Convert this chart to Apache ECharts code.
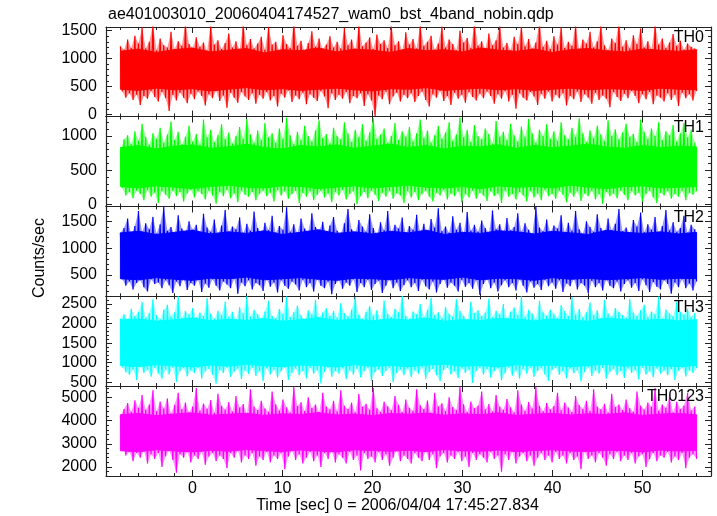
<!DOCTYPE html>
<html><head><meta charset="utf-8">
<script src="https://cdn.jsdelivr.net/npm/echarts@6/dist/echarts.min.js"></script>
<style>html,body{margin:0;padding:0;background:#fff}#c{width:717px;height:516px}</style>
</head><body><div id="c"></div>
<script>
const titleText = 'ae401003010_20060404174527_wam0_bst_4band_nobin.qdp';
const xTitle = 'Time [sec] 0 = 2006/04/04 17:45:27.834';
const yTitle = 'Counts/sec';
const panelNames = ['TH0', 'TH1', 'TH2', 'TH3', 'TH0123'];
const panelColors = ['#ff0000', '#00ff00', '#0000ff', '#00ffff', '#ff00ff'];
const timeStart = -8, timeEnd = 56;
const xMin = -9.6, xMax = 57.6;
const xMajorTicks = [0, 10, 20, 30, 40, 50];
const xMinorStep = 2;
const yRanges = [[-38, 1566], [-32, 1285], [100, 1785], [405, 2697], [1613, 5486]];
const yMajorTicks = [[0, 500, 1000, 1500], [0, 500, 1000], [500, 1000, 1500], [500, 1000, 1500, 2000, 2500], [2000, 3000, 4000, 5000]];
const yMinorStep = [100, 100, 100, 100, 200];

// Extremes of the light curves (alternating upper / lower excursions)
const th0 = [
1220,410,1160,300,1340,380,1190,260,1410,350,1270,170,1560,330,1180,280,1300,420,1620,310,
1150,230,1360,400,1240,290,1200,60,1480,350,1170,250,1310,390,1230,300,1640,200,1260,370,
1190,270,1380,410,1210,330,1290,160,1140,360,1600,290,1250,420,1330,240,1170,340,1280,120,
1450,390,1200,300,1310,210,1150,400,1630,320,1240,260,1350,380,1180,190,1270,350,1390,280,
1160,400,1570,250,1250,330,1300,140,1130,370,1420,300,1260,430,1190,220,1660,340,1230,270,
1320,390,1120,180,1280,360,1490,300,1210,240,1360,420,1170,320,1250,110,1400,380,1200,260,
1300,350,1180,280,1550,400,1240,200,1340,330,1150,290,1610,380,1220,150,1290,360,1380,250,
1170,-30,1430,340,1260,270,1330,410,1190,180,1590,320,1240,390,1310,230,1140,350,1470,290,
1250,380,1350,220,1180,330,1620,410,1230,260,1300,140,1410,360,1160,300,1270,420,1580,240,
1200,330,1340,170,1260,390,1150,280,1500,350,1290,210,1370,400,1190,310,1640,250,1230,370,
1310,290,1170,410,1450,330,1240,190,1330,360,1600,280,1200,420,1280,230,1150,350,1390,100,
1260,380,1570,300,1220,250,1350,400,1180,320,1290,170,1630,370,1210,280,1320,410,1170,230,
1400,350,1250,290,1560,380,1190,160,1300,330,1230,270,1610,410,1160,220,1340,360,1270,300,
1480,190,1200,390,1310,260,1590,340,1240,280,1150,130,1360,400,1280,310,1650,240,1210,370,
1330,290,1180,420,1420,330,1260,200,1540,360,1200,270,1310,400,1170,180,1620,340,1250,300,
1360,230,1190,380,1290,260,1440,350,1230,150,1320,390,1160,290,1270,360,1210,250,1180,420
];
const th1 = [
780,240,950,130,1010,180,880,90,1070,200,930,150,1180,60,990,210,870,110,1040,170,
960,20,1120,190,900,140,1020,80,1210,200,940,120,1060,180,880,40,990,160,1150,210,
920,100,1030,190,870,150,1240,70,980,200,1090,130,910,10,1010,180,1170,120,950,210,
1050,90,890,160,1000,30,1130,200,960,140,1250,110,1020,180,900,60,1080,150,940,200,
1190,120,980,170,1040,40,900,210,1110,130,960,190,1270,80,1010,150,880,200,1060,20,
940,170,1150,110,1000,190,920,60,1080,140,1230,200,970,100,1030,160,890,30,1120,180,
1000,130,950,210,1200,70,1040,150,910,190,1090,0,980,120,1170,180,930,90,1050,200,
1260,140,960,50,1020,170,1110,110,900,200,1000,80,1190,160,940,130,1070,20,990,190,
1130,100,920,180,1040,60,1240,150,970,200,1080,110,900,40,1010,170,1150,130,960,210,
1050,70,1200,160,930,120,1020,190,1270,30,980,150,1090,100,910,200,1160,80,1000,170,
950,130,1110,50,1030,190,890,120,1220,160,990,20,1060,200,940,110,1180,150,1010,70,
920,180,1140,130,980,40,1250,190,1040,100,900,160,1090,60,1000,210,1170,120,960,150,
1070,80,930,200,1200,140,1010,30,950,170,1120,110,990,190,1260,50,1040,160,910,120,
1080,200,970,70,1150,150,1020,10,930,180,1230,120,1000,160,1100,90,950,200,1050,140,
1180,60,990,190,1030,130,910,170,1240,40,1060,150,960,200,1110,100,1000,20,1200,170,
940,130,1070,190,1010,80,1160,150,920,110,1040,200,1190,60,980,170,1090,140,900,190
];
const th2 = [
1290,420,1380,300,1560,380,1250,230,1420,350,1700,400,1310,270,1470,190,1360,420,1590,330,
1280,360,1450,250,1780,400,1330,310,1400,160,1260,380,1620,290,1370,430,1300,220,1510,350,
1350,300,1440,410,1270,180,1650,340,1390,260,1310,420,1540,300,1260,210,1430,380,1720,320,
1300,250,1410,430,1360,150,1580,360,1280,290,1460,400,1330,230,1690,350,1380,310,1270,200,
1480,420,1340,280,1610,360,1290,170,1420,400,1350,300,1770,240,1310,380,1450,320,1280,210,
1560,410,1370,270,1300,350,1660,190,1400,420,1320,300,1500,250,1260,380,1430,140,1590,330,
1330,400,1270,240,1470,360,1740,300,1360,420,1290,180,1530,350,1410,270,1310,410,1640,220,
1380,330,1260,390,1490,160,1340,300,1700,420,1300,250,1440,360,1370,200,1580,310,1280,400,
1420,270,1350,350,1630,200,1300,410,1460,290,1270,230,1550,380,1390,170,1750,330,1320,420,
1410,260,1290,360,1600,300,1350,190,1480,410,1270,280,1680,350,1330,240,1440,400,1310,130,
1520,330,1380,420,1290,250,1710,360,1360,190,1450,310,1280,400,1570,270,1340,350,1400,210,
1660,420,1310,300,1470,170,1350,380,1260,260,1790,330,1390,220,1320,410,1540,290,1300,360,
1430,240,1370,400,1620,180,1290,340,1480,290,1330,420,1700,230,1360,350,1270,300,1510,160,
1400,390,1310,270,1640,350,1380,210,1290,410,1560,300,1340,250,1460,380,1740,190,1320,330,
1390,400,1280,260,1530,350,1410,200,1670,420,1300,310,1450,180,1350,370,1590,280,1270,230,
1420,400,1720,330,1340,150,1490,360,1310,270,1380,420,1610,250,1290,340,1440,210,1360,380
];
const th3 = [
2130,880,2240,760,2080,690,2380,820,2190,560,2300,900,2550,740,2150,820,2270,640,2620,870,
2210,720,2110,590,2350,830,2480,700,2180,880,2290,510,2700,780,2140,860,2320,650,2230,800,
2400,730,2160,870,2280,600,2190,780,2650,840,2250,690,2120,460,2330,810,2220,740,2560,880,
2170,640,2300,770,2090,850,2420,580,2260,800,2700,710,2180,870,2350,660,2240,790,2130,530,
2310,860,2580,700,2200,820,2140,620,2370,780,2250,880,2690,560,2170,740,2290,850,2460,680,
2210,790,2100,600,2340,870,2230,720,2610,810,2160,470,2280,760,2390,880,2190,640,2320,790,
2150,720,2520,860,2270,580,2180,800,2360,700,2680,850,2230,620,2120,780,2300,880,2450,540,
2200,760,2340,830,2110,660,2590,790,2250,870,2170,500,2380,740,2290,820,2710,680,2200,850,
2120,630,2310,800,2240,720,2500,880,2170,590,2350,760,2660,840,2210,680,2290,530,2140,810,
2430,870,2250,700,2180,780,2620,610,2320,850,2200,740,2100,820,2560,480,2270,790,2340,880,
2190,700,2280,840,2640,620,2160,780,2330,860,2240,550,2500,730,2130,880,2300,670,2410,800,
2220,590,2700,840,2170,720,2350,880,2260,640,2110,790,2580,860,2290,700,2200,530,2360,810,
2250,870,2140,690,2470,780,2320,600,2190,850,2680,730,2230,810,2370,520,2160,760,2290,880,
2540,660,2210,800,2340,720,2130,870,2600,590,2260,760,2180,840,2400,680,2300,790,2220,610,
2150,850,2630,740,2280,810,2200,570,2340,880,2480,700,2170,780,2310,630,2240,860,2690,720,
2120,800,2360,680,2260,840,2190,560,2550,790,2300,870,2230,650,2380,810,2160,740,2270,860
];
const th0123 = [
4200,2900,4500,2500,4750,2650,4380,2250,4870,2600,4550,2400,5100,2700,4460,2150,4690,2550,5300,2350,
4400,2600,4820,2000,4520,2450,4950,2700,4300,2300,4680,1750,5200,2550,4480,2400,4770,2650,4350,2200,
4600,2500,5400,2350,4420,2650,4730,2100,4510,2450,4880,2600,4330,2250,5150,2500,4640,2350,4470,1950,
4800,2600,4390,2400,5050,2700,4560,2200,4710,2500,4290,2350,5350,2600,4600,2050,4450,2450,4850,2300,
4520,2650,4380,2200,5250,2500,4700,2350,4430,2600,4900,1900,4570,2450,4340,2700,5450,2300,4620,2550,
4790,2150,4410,2400,5000,2650,4540,2250,4690,2500,4360,2000,5200,2600,4600,2350,4470,2700,4850,2200,
4400,2550,5300,2400,4630,2150,4500,2650,4780,2300,4350,2500,5150,1850,4590,2600,4720,2350,4460,2450,
5400,2200,4530,2650,4380,2300,4810,2550,4610,2050,4440,2400,5050,2700,4680,2250,4370,2500,4900,2350,
4550,2150,4420,2600,5350,2400,4660,2250,4490,2700,4860,2300,4330,2550,5200,1950,4600,2450,4740,2600,
4410,2200,5000,2500,4580,2350,4450,2650,5450,2250,4700,2450,4370,2000,4820,2600,4540,2300,4640,2550,
5250,2400,4480,2200,4710,2650,4390,2350,5100,2500,4600,1800,4460,2550,4930,2300,4570,2650,4350,2150,
5300,2450,4690,2600,4420,2250,4800,2500,4520,2050,5450,2400,4630,2600,4400,2300,4750,2500,4480,2200,
4620,2650,5200,2350,4440,2500,4780,2150,4560,2600,4370,2300,5050,2450,4670,1900,4500,2650,4850,2350,
4410,2500,5350,2200,4600,2600,4480,2400,4720,2050,4340,2550,5150,2350,4580,2650,4690,2250,4450,2500,
4900,2300,4530,2600,4380,2150,5250,2450,4640,2550,4470,2000,4770,2350,4590,2600,5400,2250,4420,2500,
4690,2400,4550,2650,5000,2200,4360,2450,4810,2300,4500,2600,4650,1950,5200,2400,4430,2550,4600,2350
];
// Densely filled core of each light curve (every 2 s, from -8 to 56 s)
const th0CoreLo = [450,430,470,440,460,420,450,480,440,460,430,450,470,440,420,460,450,480,430,450,470,440,460,430,450,470,440,460,450,430,470,450,440];
const th0CoreHi = [1130,1170,1110,1160,1190,1120,1150,1180,1100,1160,1140,1190,1120,1170,1150,1110,1180,1140,1160,1120,1190,1150,1130,1170,1110,1160,1180,1140,1120,1170,1150,1130,1160];
const th1CoreLo = [260,240,270,250,230,260,280,250,240,270,260,230,250,270,240,260,280,250,240,260,230,270,250,260,240,280,250,230,260,270,240,250,260];
const th1CoreHi = [830,860,810,850,870,820,840,880,830,810,860,840,870,820,850,880,830,860,810,850,840,870,820,860,830,850,880,840,820,860,830,850,840];
const th2CoreLo = [430,410,450,420,400,440,430,460,410,430,450,420,400,440,430,410,450,430,420,460,410,440,430,400,450,420,440,410,430,450,420,440,430];
const th2CoreHi = [1290,1320,1260,1300,1340,1270,1310,1280,1330,1260,1300,1350,1280,1310,1270,1320,1290,1340,1260,1300,1280,1330,1310,1270,1320,1290,1260,1340,1300,1280,1310,1270,1300];
const th3CoreLo = [930,900,950,920,890,940,910,960,920,900,940,930,890,950,910,930,900,940,960,910,930,890,950,920,940,900,930,960,910,940,920,900,930];
const th3CoreHi = [2090,2120,2060,2100,2140,2070,2110,2080,2130,2060,2100,2150,2080,2110,2070,2120,2090,2140,2060,2100,2080,2130,2110,2070,2120,2090,2060,2140,2100,2080,2110,2070,2100];
const th0123CoreLo = [2700,2660,2740,2690,2650,2720,2680,2750,2700,2670,2730,2690,2650,2740,2710,2680,2720,2660,2750,2700,2680,2730,2660,2710,2740,2690,2670,2720,2700,2650,2730,2690,2710];
const th0123CoreHi = [4250,4300,4210,4280,4330,4230,4270,4310,4220,4290,4260,4340,4240,4280,4210,4300,4270,4320,4230,4290,4250,4330,4220,4270,4310,4240,4290,4260,4330,4220,4280,4300,4250];

const seriesValues = [th0, th1, th2, th3, th0123];
const coreLo = [th0CoreLo, th1CoreLo, th2CoreLo, th3CoreLo, th0123CoreLo];
const coreHi = [th0CoreHi, th1CoreHi, th2CoreHi, th3CoreHi, th0123CoreHi];

const FONT = "'Liberation Sans', Arial, sans-serif";
const gridTops = [27, 116.5, 206.5, 296.3, 386];
const gridBottoms = [116.5, 206.5, 296.3, 386, 476];
const LEFT = 106, RIGHT = 711;
const axisColor = '#222';

function stepTicks(lo, hi, step, exclude) {
  const out = [];
  const start = Math.ceil(lo / step) * step;
  for (let v = start; v <= hi + 1e-9; v += step) {
    const r = Math.round(v * 1000) / 1000;
    if (exclude.indexOf(r) < 0 && r > lo && r < hi) out.push(r);
  }
  return out;
}
function timesFor(n) {
  const dt = (timeEnd - timeStart) / (n - 1);
  const out = [];
  for (let i = 0; i < n; i++) out.push(timeStart + i * dt);
  return out;
}
const plainFmt = v => String(v);

// solid core polygon: data items are [t, lo, hi]
function coreRenderer(color) {
  return function (params, api) {
    if (params.dataIndexInside !== 0) return null;
    const n = params.dataInsideLength;
    const upper = [], lower = [];
    for (let j = 0; j < n; j++) {
      const t = api.value(0, j);
      upper.push(api.coord([t, api.value(2, j)]));
      lower.push(api.coord([t, api.value(1, j)]));
    }
    return {
      type: 'polygon',
      shape: { points: upper.concat(lower.reverse()) },
      style: { fill: color, stroke: color, lineWidth: 1 },
      silent: true
    };
  };
}
// light envelope through the upper (even) and lower (odd) excursions: data items are [t, v]
function envelopeRenderer(color, opacity) {
  return function (params, api) {
    if (params.dataIndexInside !== 0) return null;
    const n = params.dataInsideLength;
    const upper = [], lower = [];
    for (let j = 0; j < n; j++) {
      const p = api.coord([api.value(0, j), api.value(1, j)]);
      if (j % 2 === 0) upper.push(p); else lower.push(p);
    }
    return {
      type: 'polygon',
      shape: { points: upper.concat(lower.reverse()) },
      style: { fill: color, opacity: opacity },
      silent: true
    };
  };
}

const grids = [], xAxes = [], yAxes = [], series = [], graphics = [];
const xMinor = stepTicks(xMin, xMax, xMinorStep, xMajorTicks);
const tickStyle = { color: axisColor, width: 1 };
const lineStyleAxis = { color: axisColor, width: 1.2 };

for (let k = 0; k < 5; k++) {
  grids.push({ left: LEFT, width: RIGHT - LEFT, top: gridTops[k], height: gridBottoms[k] - gridTops[k], containLabel: false });
  const xBase = { gridIndex: k, type: 'value', min: xMin, max: xMax, splitLine: { show: false } };
  [['bottom', true], ['top', true], ['bottom', false], ['top', false]].forEach(([pos, major]) => {
    xAxes.push(Object.assign({}, xBase, {
      position: pos,
      axisLine: { show: major, onZero: false, lineStyle: lineStyleAxis },
      axisTick: { show: true, inside: true, length: major ? 6 : 3, customValues: major ? xMajorTicks : xMinor, lineStyle: tickStyle },
      axisLabel: (major && pos === 'bottom' && k === 4)
        ? { show: true, customValues: xMajorTicks, margin: 5, fontSize: 16, color: '#000', fontFamily: FONT, formatter: plainFmt }
        : { show: false }
    }));
  });

  const yr = yRanges[k];
  const yMinor = stepTicks(yr[0], yr[1], yMinorStep[k], yMajorTicks[k]);
  const yBase = { gridIndex: k, type: 'value', min: yr[0], max: yr[1], splitLine: { show: false } };
  [['left', true], ['right', true], ['left', false], ['right', false]].forEach(([pos, major]) => {
    yAxes.push(Object.assign({}, yBase, {
      position: pos,
      axisLine: { show: major, onZero: false, lineStyle: lineStyleAxis },
      axisTick: { show: true, inside: true, length: major ? 6 : 3, customValues: major ? yMajorTicks[k] : yMinor, lineStyle: tickStyle },
      axisLabel: (major && pos === 'left')
        ? { show: true, customValues: yMajorTicks[k], margin: 9, fontSize: 16, color: '#000', fontFamily: FONT, formatter: plainFmt }
        : { show: false }
    }));
  });

  const col = panelColors[k];
  const vals = seriesValues[k];
  const vt = timesFor(vals.length);
  const pts = vals.map((v, i) => [vt[i], v]);

  series.push({
    type: 'custom', xAxisIndex: 4 * k, yAxisIndex: 4 * k,
    data: pts, encode: { x: 0, y: 1 },
    renderItem: envelopeRenderer(col, 0.4),
    clip: true, silent: true, z: 1
  });
  const ct = timesFor(coreLo[k].length);
  series.push({
    type: 'custom', xAxisIndex: 4 * k, yAxisIndex: 4 * k,
    data: coreLo[k].map((v, i) => [ct[i], v, coreHi[k][i]]),
    encode: { x: 0, y: [1, 2] },
    renderItem: coreRenderer(col),
    clip: true, silent: true, z: 1
  });
  series.push({
    type: 'line',
    name: panelNames[k],
    xAxisIndex: 4 * k,
    yAxisIndex: 4 * k,
    data: pts,
    showSymbol: false,
    symbol: 'none',
    clip: true,
    silent: true,
    z: 2,
    lineStyle: { color: col, width: 1.2 },
    itemStyle: { color: col }
  });

  graphics.push({
    type: 'text', x: 704, y: gridTops[k] + 11, z: 100,
    style: { text: panelNames[k], font: '16px ' + FONT, fill: '#000', textAlign: 'right', textVerticalAlign: 'middle' }
  });
}

graphics.push({ type: 'text', x: 108, y: 15, style: { text: titleText, font: '16px ' + FONT, fill: '#000', textAlign: 'left', textVerticalAlign: 'middle' } });
graphics.push({ type: 'text', x: 397.5, y: 506, style: { text: xTitle, font: '16px ' + FONT, fill: '#000', textAlign: 'center', textVerticalAlign: 'middle' } });
graphics.push({ type: 'text', x: 40, y: 258, rotation: Math.PI / 2, style: { text: yTitle, font: '16px ' + FONT, fill: '#000', textAlign: 'center', textVerticalAlign: 'middle' } });

const chart = echarts.init(document.getElementById('c'), null, { renderer: 'canvas' });
chart.setOption({
  animation: false,
  backgroundColor: '#fff',
  grid: grids,
  xAxis: xAxes,
  yAxis: yAxes,
  series: series,
  graphic: graphics
});
</script>
</body></html>
